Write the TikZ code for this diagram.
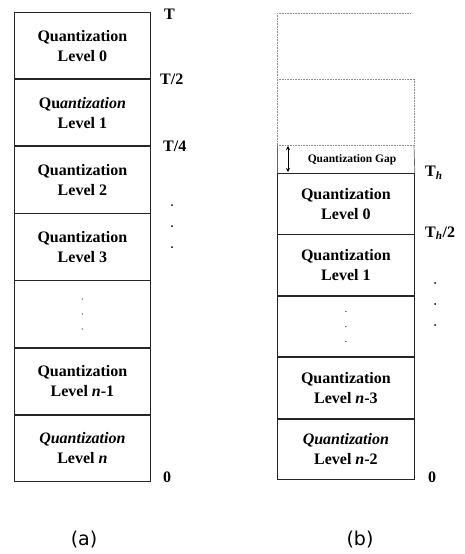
\documentclass[tikz,border=0pt]{standalone}
\usepackage{fontspec}
\setmainfont{Liberation Serif}
\newfontfamily\capfont{DejaVu Sans}
\usetikzlibrary{arrows.meta}
\begin{document}
\begin{tikzpicture}[x=1pt,y=-1pt,
  lvl/.style={draw=black!85,line width=0.8pt,rectangle,inner sep=0pt,align=center,
    font=\fontsize{16}{20}\selectfont\bfseries},
  lvla/.style={lvl,minimum width=136pt,minimum height=66.3pt},
  lvlb/.style={lvl,minimum width=137pt,minimum height=60.6pt},
  lab/.style={anchor=west,inner sep=0pt,font=\fontsize{16}{19}\selectfont\bfseries},
  dotline/.style={draw=black!45,line width=0.6pt,densely dotted},
  dt/.style={circle,fill=black,inner sep=0pt,minimum size=2pt},
  sdt/.style={circle,fill=black!70,inner sep=0pt,minimum size=1.4pt},
  captext/.style={font=\capfont\fontsize{19}{22}\selectfont}]
\useasboundingbox (0,0) rectangle (464,554);
% ---- (a)
\node[lvla,anchor=north west] (a0) at (14,12) {Quantization\\Level 0};
\node[lvla,anchor=north] (a1) at (a0.south) {Qu\textit{antization}\\Level 1};
\node[lvla,anchor=north] (a2) at (a1.south) {Quantization\\Level 2};
\node[lvla,anchor=north] (a3) at (a2.south) {Quantization\\Level 3};
\node[lvla,anchor=north] (a4) at (a3.south) {};
\node[lvla,anchor=north] (a5) at (a4.south) {Quantization\\Level \textit{n}-1};
\node[lvla,anchor=north] (a6) at (a5.south) {\textit{Quantization}\\Level \textit{n}};
\node[sdt] (ad1) at ([yshift=-15pt]a4.center) {};
\node[sdt] (ad2) at (a4.center) {};
\node[sdt] (ad3) at ([yshift=15pt]a4.center) {};
\node[lab] (lT) at (164,14) {T};
\node[lab] (lT2) at (160,79) {T/2};
\node[lab] (lT4) at (163,146) {T/4};
\node[lab] (l0a) at (163,477) {0};
\node[dt] (d1) at (172,205) {};
\node[dt] (d2) at (172,226) {};
\node[dt] (d3) at (172,247) {};
\node[captext] (capa) at (84,540) {(a)};
% ---- (b)
\node[lvlb,anchor=north west] (b0) at (277,173) {Quantization\\Level 0};
\node[lvlb,anchor=north] (b1) at (b0.south) {Quantization\\Level 1};
\node[lvlb,anchor=north] (b2) at (b1.south) {};
\node[lvlb,anchor=north] (b3) at (b2.south) {Quantization\\Level \textit{n}-3};
\node[lvlb,anchor=north] (b4) at (b3.south) {\textit{Quantization}\\Level \textit{n}-2};
\node[sdt] (bd1) at ([yshift=-15pt]b2.center) {};
\node[sdt] (bd2) at (b2.center) {};
\node[sdt] (bd3) at ([yshift=15pt]b2.center) {};
% gap row
\coordinate (g1) at (277,145);
\coordinate (g2) at (414,145);
\draw[black!60,line width=0.7pt] (g1) -- (b0.north west);
\draw[black!60,line width=0.7pt] (g2) -- (b0.north east);
\coordinate (ga) at (288,146);
\coordinate (gb) at (288,172);
\draw[black,line width=0.7pt,{Stealth[length=4pt,width=4pt]}-{Stealth[length=4pt,width=4pt]}] (ga) -- (gb);
\node[font=\fontsize{11.5}{13}\selectfont\bfseries,inner sep=0pt] (gap) at (352,160) {Quantization Gap};
% dotted upper region
\coordinate (u0l) at (277,13);
\coordinate (u0r) at (410,13);
\coordinate (u1l) at (277,79);
\coordinate (u1r) at (414,79);
\draw[dotline] (u0l) -- (u0r);
\draw[dotline] (u0l) -- (g1);
\draw[dotline] (u1l) -- (u1r);
\draw[dotline] (u1r) -- (g2);
\draw[dotline] (g1) -- (g2);
\node[lab] (lTh) at (425,173) {T\textsubscript{\textit{h}}};
\node[lab] (lTh2) at (425,233) {T\textsubscript{\textit{h}}/2};
\node[lab] (l0b) at (428,477) {0};
\node[dt] (e1) at (435,283) {};
\node[dt] (e2) at (435,304) {};
\node[dt] (e3) at (435,325) {};
\node[captext] (capb) at (360,540) {(b)};
\end{tikzpicture}
\end{document}
